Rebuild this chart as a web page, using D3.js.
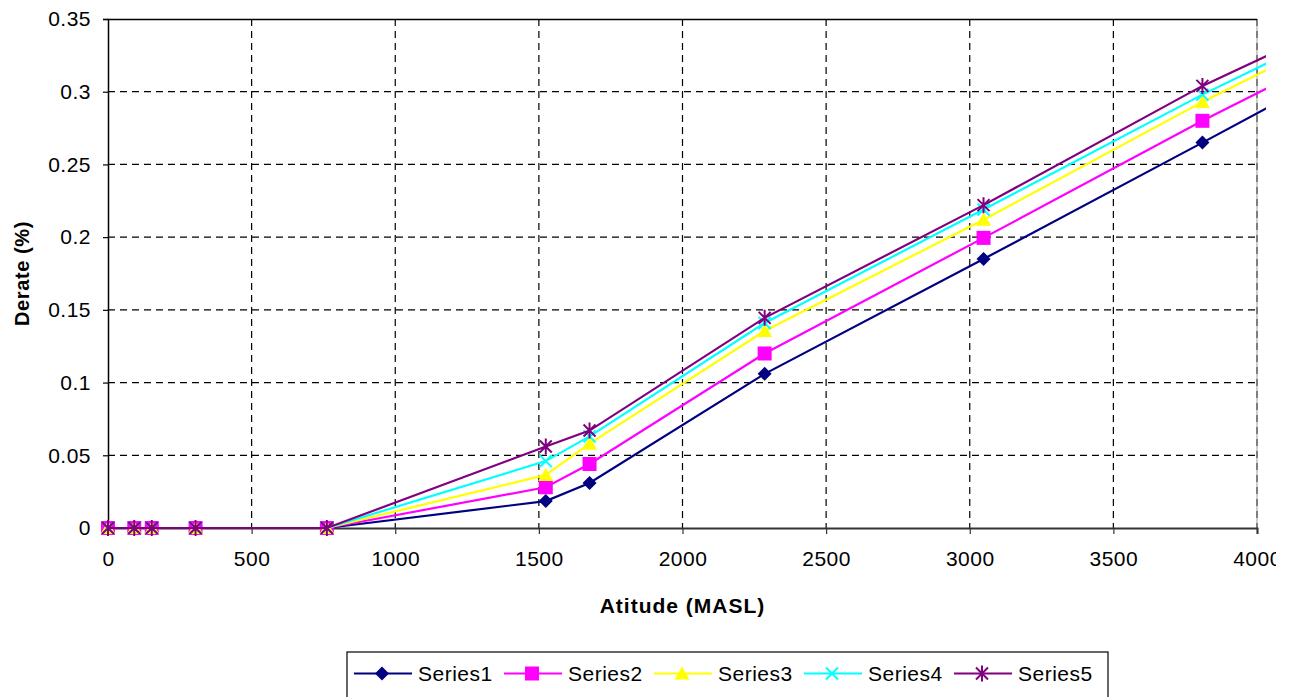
<!DOCTYPE html>
<html>
<head>
<meta charset="utf-8">
<script src="https://cdn.jsdelivr.net/npm/d3@7"></script>
<style>
  html, body { margin: 0; padding: 0; background: #fff; }
  svg { display: block; }
  text { font-family: "Liberation Sans", Arial, sans-serif; fill: #000; }
</style>
</head>
<body>
<svg id="chart" width="1276" height="697"></svg>
<script>
// ---- data ----
const altitudes = [0, 91.44, 152.4, 304.8, 762, 1524, 1676.4, 2286, 3048, 3810, 4572];
const series1 = [0, 0, 0, 0, 0, 0.0185, 0.031, 0.106, 0.185, 0.265, 0.346];
const series2 = [0, 0, 0, 0, 0, 0.028, 0.044, 0.120, 0.1995, 0.280, 0.356];
const series3 = [0, 0, 0, 0, 0, 0.0365, 0.058, 0.1355, 0.212, 0.293, 0.368];
const series4 = [0, 0, 0, 0, 0, 0.046, 0.063, 0.141, 0.219, 0.298, 0.371];
const series5 = [0, 0, 0, 0, 0, 0.056, 0.067, 0.1445, 0.222, 0.304, 0.374];
const seriesNames = ["Series1", "Series2", "Series3", "Series4", "Series5"];
const xTicks = [0, 500, 1000, 1500, 2000, 2500, 3000, 3500, 4000];
const yTicks = [0, 0.05, 0.1, 0.15, 0.2, 0.25, 0.3, 0.35];
const xTitle = "Atitude (MASL)";
const yTitle = "Derate (%)";

const allSeries = [series1, series2, series3, series4, series5];
const colors = ["#000080", "#FF00FF", "#FFFF00", "#00FFFF", "#800080"];
const markerTypes = ["diamond", "square", "triangle", "x", "star"];

const svg = d3.select("#chart");
const L = 108, R = 1257, T = 19, B = 528;
const x = d3.scaleLinear().domain([0, 4000]).range([L, R]);
const y = d3.scaleLinear().domain([0, 0.35]).range([B, T]);

// gridlines
const grid = svg.append("g");
grid.selectAll("line.v").data(xTicks.slice(1)).join("line")
  .attr("x1", d => x(d)).attr("x2", d => x(d)).attr("y1", T).attr("y2", B)
  .attr("stroke", "#000").attr("stroke-width", 1.2).attr("stroke-dasharray", "7,5");
grid.selectAll("line.h").data(yTicks.slice(1, -1)).join("line")
  .attr("x1", L).attr("x2", R).attr("y1", d => y(d)).attr("y2", d => y(d))
  .attr("stroke", "#000").attr("stroke-width", 1.2).attr("stroke-dasharray", "7,5");
// right border faint
grid.append("line").attr("x1", R).attr("x2", R).attr("y1", T).attr("y2", B)
  .attr("stroke", "#999").attr("stroke-width", 1);
// top border
grid.append("line").attr("x1", L).attr("x2", R).attr("y1", T + 0.5).attr("y2", T + 0.5)
  .attr("stroke", "#000").attr("stroke-width", 1.5);

// axes
const xAxis = d3.axisBottom(x).tickValues(xTicks).tickSize(6).tickPadding(17).tickFormat(d3.format("d"));
const gx = svg.append("g").attr("transform", `translate(0,${B})`).call(xAxis);
gx.select(".domain").attr("stroke", "#333").attr("stroke-width", 2);
gx.selectAll(".tick line").attr("stroke", "#333").attr("stroke-width", 1.2);
gx.selectAll(".tick text").attr("font-size", 21).attr("letter-spacing", "0.5px")
  .attr("font-family", "Liberation Sans, Arial, sans-serif").attr("fill", "#000");

const yAxis = d3.axisLeft(y).tickValues(yTicks).tickSize(5).tickPadding(12).tickFormat(d => String(+d.toFixed(2)));
const gy = svg.append("g").attr("transform", `translate(${L},0)`).call(yAxis);
gy.select(".domain").attr("stroke", "#000").attr("stroke-width", 1.5);
gy.selectAll(".tick line").attr("stroke", "#000").attr("stroke-width", 1.2);
gy.selectAll(".tick text").attr("font-size", 21).attr("letter-spacing", "0.5px")
  .attr("font-family", "Liberation Sans, Arial, sans-serif").attr("fill", "#000");

// titles
svg.append("text").attr("x", (L + R) / 2).attr("y", 613).attr("text-anchor", "middle")
  .attr("font-size", 21).attr("font-weight", "bold").attr("letter-spacing", "1px").text(xTitle);
svg.append("text").attr("transform", `translate(29,${(T + B) / 2}) rotate(-90)`).attr("text-anchor", "middle")
  .attr("font-size", 20).attr("font-weight", "bold").attr("letter-spacing", "0.6px").text(yTitle);

// marker drawing
function drawMarker(g, type, color) {
  if (type === "diamond") {
    g.append("path").attr("d", "M0,-7L7,0L0,7L-7,0Z").attr("fill", color);
  } else if (type === "square") {
    g.append("rect").attr("x", -7).attr("y", -7).attr("width", 14).attr("height", 14).attr("fill", color);
  } else if (type === "triangle") {
    g.append("path").attr("d", "M0,-7L7.5,6L-7.5,6Z").attr("fill", color);
  } else if (type === "x") {
    g.append("path").attr("d", "M-6,-6L6,6M-6,6L6,-6").attr("stroke", color).attr("stroke-width", 2).attr("fill", "none");
  } else if (type === "star") {
    g.append("path").attr("d", "M-6,-6L6,6M-6,6L6,-6M0,-8L0,8").attr("stroke", color).attr("stroke-width", 2).attr("fill", "none");
  }
}

// clip for data
svg.append("clipPath").attr("id", "clip").append("rect")
  .attr("x", 0).attr("y", 0).attr("width", 1266).attr("height", 697);

const dataG = svg.append("g").attr("clip-path", "url(#clip)");
const line = d3.line().x(d => x(d[0])).y(d => y(d[1]));

allSeries.forEach((vals, i) => {
  const pts = altitudes.map((a, j) => [a, vals[j]]);
  dataG.append("path").datum(pts).attr("d", line)
    .attr("fill", "none").attr("stroke", colors[i]).attr("stroke-width", 2.2);
  dataG.selectAll(null).data(pts).join("g")
    .attr("transform", d => `translate(${x(d[0])},${y(d[1])})`)
    .each(function () { drawMarker(d3.select(this), markerTypes[i], colors[i]); });
});

// legend
const leg = svg.append("g");
leg.append("rect").attr("x", 347).attr("y", 652).attr("width", 761).attr("height", 60)
  .attr("fill", "#fff").attr("stroke", "#000").attr("stroke-width", 1.2);
seriesNames.forEach((name, i) => {
  const x0 = 354 + i * 150;
  const ly = 673.5;
  const g = leg.append("g");
  g.append("line").attr("x1", x0).attr("x2", x0 + 58).attr("y1", ly).attr("y2", ly)
    .attr("stroke", colors[i]).attr("stroke-width", 2.2);
  const m = g.append("g").attr("transform", `translate(${x0 + 28},${ly})`);
  drawMarker(m, markerTypes[i], colors[i]);
  g.append("text").attr("x", x0 + 64).attr("y", 681).attr("font-size", 21)
    .attr("letter-spacing", "0.5px").text(name);
});
</script>
</body>
</html>
